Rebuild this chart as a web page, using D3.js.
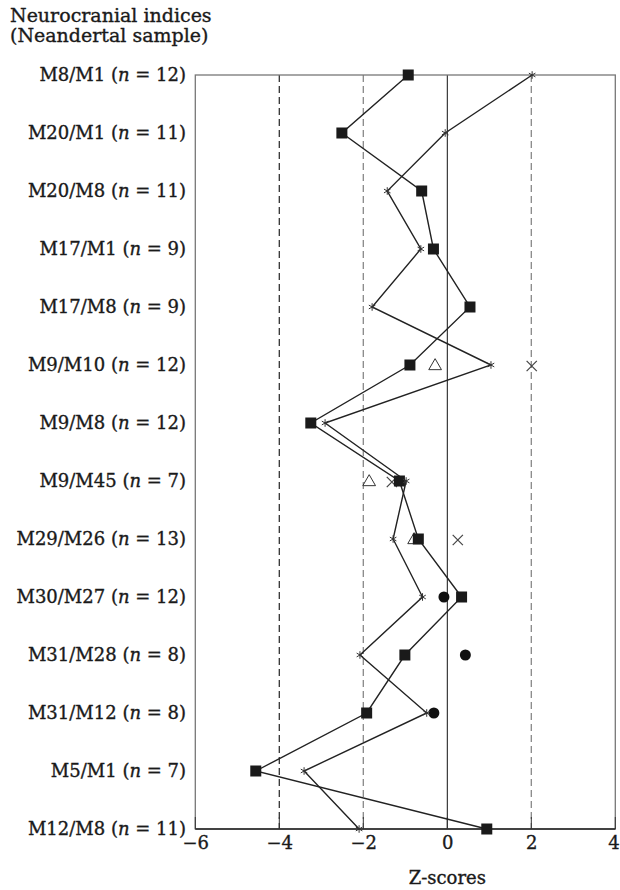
<!DOCTYPE html>
<html><head><meta charset="utf-8">
<script src="https://cdn.jsdelivr.net/npm/d3@7"></script>
<style>body{margin:0;background:#fff}</style>
</head><body>
<svg id="c" width="620" height="890"></svg>
<script>
const indices = ["M8/M1","M20/M1","M20/M8","M17/M1","M17/M8","M9/M10","M9/M8","M9/M45","M29/M26","M30/M27","M31/M28","M31/M12","M5/M1","M12/M8"];
const sampleN = [12,11,11,9,9,12,12,7,13,12,8,8,7,11];
const squareSeries = [-0.93,-2.51,-0.61,-0.33,0.54,-0.89,-3.25,-1.14,-0.69,0.34,-1.01,-1.92,-4.56,0.94];
const starSeries = [2.02,-0.05,-1.43,-0.63,-1.79,1.04,-2.91,-0.98,-1.29,-0.59,-2.08,-0.49,-3.41,-2.10];
const trianglePoints = [{i:"M9/M10",z:-0.29},{i:"M9/M45",z:-1.86},{i:"M29/M26",z:-0.79}];
const crossPoints = [{i:"M9/M10",z:2.01},{i:"M9/M45",z:-1.32},{i:"M29/M26",z:0.25}];
const circlePoints = [{i:"M30/M27",z:-0.08},{i:"M31/M28",z:0.43},{i:"M31/M12",z:-0.32}];
const xTicks = [-6,-4,-2,0,2,4];
const refLines = [-4,-2,2];

const svg = d3.select("#c");
const font = "'DejaVu Serif', serif";
const txt = s => s.attr("font-family",font).attr("fill","#1a1a1a").attr("stroke","#1a1a1a").attr("stroke-width",0.35);
const m = {l:195.3, r:615.3, t:75, b:829};
const x = d3.scaleLinear().domain([-6,4]).range([m.l,m.r]);
const y = d3.scalePoint().domain(indices).range([m.t,m.b]);

svg.selectAll(".ref").data(refLines).enter().append("line")
  .attr("x1",d=>x(d)).attr("x2",d=>x(d)).attr("y1",m.t).attr("y2",m.b)
  .attr("stroke",d=>d===-4?"#333":"#888").attr("stroke-width",1.3).attr("stroke-dasharray","7,4");
svg.append("line").attr("x1",x(0)).attr("x2",x(0)).attr("y1",m.t).attr("y2",m.b)
  .attr("stroke","#111").attr("stroke-width",1);
svg.append("rect").attr("x",m.l).attr("y",m.t).attr("width",m.r-m.l).attr("height",m.b-m.t)
  .attr("fill","none").attr("stroke","#777").attr("stroke-width",1.3);
svg.append("line").attr("x1",m.l).attr("x2",m.r).attr("y1",m.b).attr("y2",m.b).attr("stroke","#222").attr("stroke-width",1.3);

const ax = d3.axisBottom(x).tickValues(xTicks).tickSize(0).tickPadding(7)
  .tickFormat(d=>d<0?"\u2212"+Math.abs(d):d);
const axg = svg.append("g").attr("transform",`translate(0,${m.b})`).call(ax);
axg.select(".domain").remove();
axg.selectAll("text").call(txt).attr("font-size",18);
axg.selectAll(".tick").filter(d=>d===4).select("text").attr("text-anchor","end").attr("x",4);
svg.selectAll(".tk").data(xTicks).enter().append("line")
  .attr("x1",d=>x(d)).attr("x2",d=>x(d)).attr("y1",m.b-12).attr("y2",m.b)
  .attr("stroke","#333").attr("stroke-width",1);

svg.append("text").attr("x",x(0)).attr("y",884).attr("text-anchor","middle")
  .call(txt).attr("font-size",18).text("Z-scores");

const lab = svg.selectAll(".lab").data(indices).enter().append("text")
  .attr("x",186).attr("y",d=>y(d)).attr("dy","0.35em").attr("text-anchor","end")
  .call(txt).attr("font-size",18);
lab.append("tspan").text(d=>d+" (");
lab.append("tspan").attr("font-style","italic").text("n");
lab.append("tspan").text((d,i)=>" = "+sampleN[i]+")");

svg.append("text").attr("x",10).attr("y",22).call(txt).attr("font-size",19).text("Neurocranial indices");
svg.append("text").attr("x",10).attr("y",42).call(txt).attr("font-size",19).text("(Neandertal sample)");

const line = d3.line().x(d=>x(d[1])).y(d=>y(d[0]));
svg.append("path").datum(indices.map((d,i)=>[d,squareSeries[i]])).attr("d",line)
  .attr("fill","none").attr("stroke","#222").attr("stroke-width",1.4);
svg.append("path").datum(indices.map((d,i)=>[d,starSeries[i]])).attr("d",line)
  .attr("fill","none").attr("stroke","#222").attr("stroke-width",1.4);

svg.selectAll(".tri").data(trianglePoints).enter().append("path")
  .attr("transform",d=>`translate(${x(d.z)},${y(d.i)+1})`)
  .attr("d",d3.symbol().type(d3.symbolTriangle).size(70))
  .attr("fill","#fff").attr("stroke","#333").attr("stroke-width",1);
svg.selectAll(".cr").data(crossPoints).enter().append("path")
  .attr("transform",d=>`translate(${x(d.z)},${y(d.i)+1})`)
  .attr("d",d3.symbol().type(d3.symbolTimes).size(70))
  .attr("fill","none").attr("stroke","#444").attr("stroke-width",1.2);
svg.selectAll(".ci").data(circlePoints).enter().append("circle")
  .attr("cx",d=>x(d.z)).attr("cy",d=>y(d.i)).attr("r",5.5).attr("fill","#111");
svg.selectAll(".sq").data(indices.map((d,i)=>[d,squareSeries[i]])).enter().append("rect")
  .attr("x",d=>x(d[1])-5.5).attr("y",d=>y(d[0])-5.5).attr("width",11).attr("height",11).attr("fill","#1a1a1a");
svg.selectAll(".st").data(indices.map((d,i)=>[d,starSeries[i]])).enter().append("path")
  .attr("transform",d=>`translate(${x(d[1])},${y(d[0])})`)
  .attr("d",d3.symbol().type(d3.symbolAsterisk).size(40))
  .attr("fill","none").attr("stroke","#333").attr("stroke-width",1);
</script>
</body></html>
